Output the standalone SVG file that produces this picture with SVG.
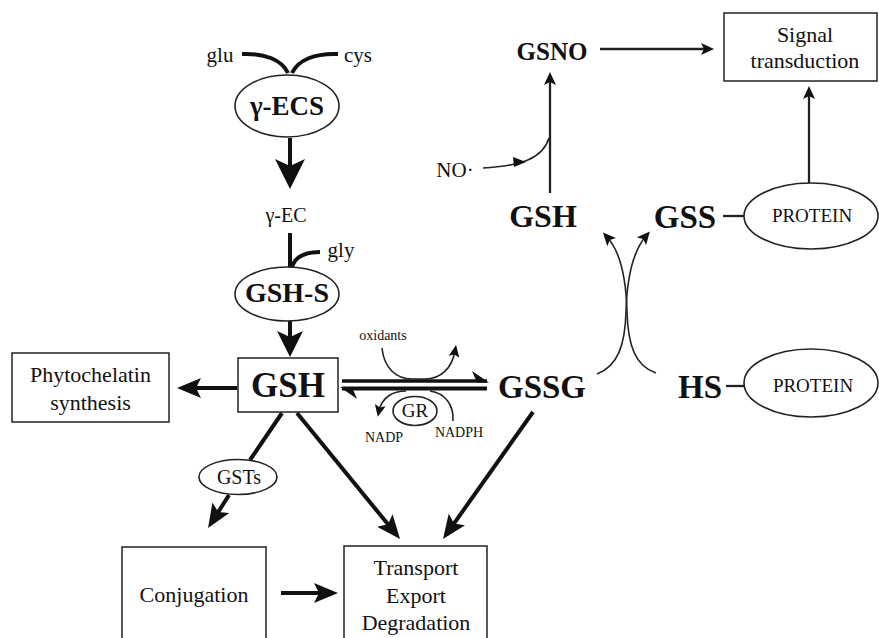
<svg xmlns="http://www.w3.org/2000/svg" width="879" height="638" viewBox="0 0 879 638">
<defs>
<style>
text{font-family:"Liberation Serif","Times New Roman",serif;fill:#111;text-anchor:middle}
.b{font-weight:bold}
.box{fill:none;stroke:#222;stroke-width:1.5}
.ell{fill:#fff;stroke:#222;stroke-width:1.6}
.thick{fill:none;stroke:#111;stroke-width:4}
.thin{fill:none;stroke:#222;stroke-width:2.3}
.hair{fill:none;stroke:#222;stroke-width:1.6}
.ah{fill:#111}
</style>
<marker id="ah-xl" markerUnits="userSpaceOnUse" markerWidth="30" markerHeight="30" refX="20" refY="15" orient="auto"><path class="ah" d="M0,0 L30,15 L0,30 L7,15 Z"/></marker>
<marker id="ah-l" markerUnits="userSpaceOnUse" markerWidth="26" markerHeight="26" refX="16" refY="13" orient="auto"><path class="ah" d="M0,0 L26,13 L0,26 L6,13 Z"/></marker>
<marker id="ah-m" markerUnits="userSpaceOnUse" markerWidth="24" markerHeight="20" refX="14" refY="10" orient="auto"><path class="ah" d="M0,0 L24,10 L0,20 L5,10 Z"/></marker>
<marker id="ah-s" markerUnits="userSpaceOnUse" markerWidth="13" markerHeight="12" refX="7" refY="6" orient="auto"><path class="ah" d="M0,0 L13,6 L0,12 L3,6 Z"/></marker>
<marker id="ah-xs" markerUnits="userSpaceOnUse" markerWidth="12" markerHeight="11" refX="6" refY="5.5" orient="auto"><path class="ah" d="M0,0 L12,5.5 L0,11 L2.5,5.5 Z"/></marker>
</defs>
<rect width="879" height="638" fill="#fff"/>

<g id="connectors">
  <path class="thick" d="M242,54 C265,53 282,60 288,73"/>
  <path class="thick" d="M338,54 C315,53 298,60 292,73"/>
  <path class="thick" d="M290,138 L290,179" marker-end="url(#ah-xl)"/>
  <path class="thick" d="M290,233 L290,268"/>
  <path class="thick" d="M292,267 C295,257 305,252 320,252"/>
  <path class="thick" d="M290,321 L290,347" marker-end="url(#ah-l)"/>
  <path class="thick" d="M237,388 L187,388" marker-end="url(#ah-m)"/>
  <path class="thick" d="M282,413 L250,460"/>
  <path class="thick" d="M229,495 L213.4,519.6" marker-end="url(#ah-m)"/>
  <path class="thick" d="M281,593 L328,593" marker-end="url(#ah-m)"/>
  <path class="thick" d="M297,413 L393.7,531.3" marker-end="url(#ah-m)"/>
  <path class="thick" d="M533,412 L448.8,530.8" marker-end="url(#ah-m)"/>
  <path fill="none" stroke="#111" stroke-width="3.5" d="M342,381 L487,381"/>
  <polygon class="ah" points="489,382.5 472,371 477,382.5"/>
  <path fill="none" stroke="#111" stroke-width="3.8" d="M342,388.5 L487,388.5"/>
  <polygon class="ah" points="340,387 357,399 352,387"/>
  <path class="hair" d="M382,348 C384,368 396,379 412,379 L425,379 C441,379 452,368 455,351" marker-end="url(#ah-xs)"/>
  <path class="hair" d="M406,391 C393,391 382,397 379,411" marker-end="url(#ah-xs)"/>
  <path class="hair" d="M453,421 C454,405 445,393 430,391"/>
  <path class="thin" d="M550,193 L550,78" marker-end="url(#ah-s)"/>
  <path class="hair" d="M483,168 C522,166 543,158 549,138"/>
  <polygon class="ah" points="526,162 513,157 514,167"/>
  <path class="thin" d="M600,49 L708,49" marker-end="url(#ah-s)"/>
  <path class="thin" d="M809,183 L809,92" marker-end="url(#ah-s)"/>
  <path class="thin" d="M723,216 L744,216"/>
  <path class="thin" d="M726,386 L745,386"/>
  <path class="hair" d="M597,374 C618,366 625,345 626,312 C627,275 634,250 646,236" marker-end="url(#ah-s)"/>
  <path class="hair" d="M656,373 C635,366 628,345 627,312 C626,275 619,250 607,237" marker-end="url(#ah-s)"/>
</g>

<g id="glu"><text x="220" y="62" font-size="21">glu</text></g>
<g id="cys"><text x="358" y="62" font-size="21">cys</text></g>
<g id="gECS"><ellipse class="ell" cx="287" cy="106" rx="52" ry="31"/><text class="b" x="287" y="115" font-size="27">γ-ECS</text></g>
<g id="gEC"><text x="286" y="222" font-size="20">γ-EC</text></g>
<g id="gly"><text x="341" y="257" font-size="21">gly</text></g>
<g id="GSHS"><ellipse class="ell" cx="287" cy="294" rx="52" ry="27"/><text class="b" x="287" y="302" font-size="28">GSH-S</text></g>
<g id="GSH"><rect class="box" x="238" y="358" width="100" height="54"/><text class="b" x="288" y="397" font-size="35">GSH</text></g>
<g id="phyto"><rect class="box" x="12" y="353" width="157" height="69"/><text x="90.5" y="382" font-size="22">Phytochelatin</text><text x="90.5" y="410" font-size="22">synthesis</text></g>
<g id="GSTs"><ellipse class="ell" cx="238" cy="477" rx="39" ry="17.5"/><text x="239" y="484" font-size="20">GSTs</text></g>
<g id="conj"><rect class="box" x="122" y="547" width="144" height="100"/><text x="194" y="602" font-size="22">Conjugation</text></g>
<g id="transport"><rect class="box" x="344" y="546" width="143" height="100"/><text x="416" y="575" font-size="22">Transport</text><text x="416" y="603" font-size="22">Export</text><text x="416" y="630" font-size="22">Degradation</text></g>
<g id="GSSG"><text class="b" x="542" y="398" font-size="33">GSSG</text></g>
<g id="oxidants"><text x="383" y="340" font-size="14">oxidants</text></g>
<g id="GR"><ellipse class="ell" cx="415" cy="411" rx="22" ry="14.5"/><text x="415" y="417" font-size="19">GR</text></g>
<g id="NADP"><text x="384" y="442" font-size="14">NADP</text></g>
<g id="NADPH"><text x="459" y="437" font-size="14">NADPH</text></g>
<g id="GSH2"><text class="b" x="543" y="227" font-size="32">GSH</text></g>
<g id="NO"><text x="455" y="177" font-size="21">NO·</text></g>
<g id="GSNO"><text class="b" x="552" y="60" font-size="25">GSNO</text></g>
<g id="signal"><rect class="box" x="724" y="13" width="153" height="68"/><text x="805" y="42" font-size="22">Signal</text><text x="805" y="68" font-size="22">transduction</text></g>
<g id="GSS"><text class="b" x="685" y="228" font-size="33">GSS</text></g>
<g id="protein1"><ellipse class="ell" cx="811" cy="216" rx="67" ry="33"/><text x="812" y="222" font-size="19">PROTEIN</text></g>
<g id="HS"><text class="b" x="700" y="398" font-size="33">HS</text></g>
<g id="protein2"><ellipse class="ell" cx="811" cy="383" rx="67" ry="34"/><text x="813" y="392" font-size="19">PROTEIN</text></g>
</svg>
